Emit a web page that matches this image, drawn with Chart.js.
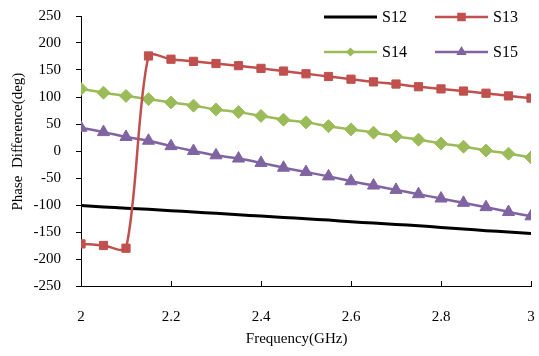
<!DOCTYPE html>
<html>
<head>
<meta charset="utf-8">
<script src="https://cdn.jsdelivr.net/npm/chart.js@4/dist/chart.umd.min.js"></script>
<style>
html,body{margin:0;padding:0;background:#ffffff;}
#wrap{width:539px;height:356px;position:relative;}
</style>
</head>
<body>
<div id="wrap"><canvas id="c" width="539" height="356"></canvas></div>
<script>
// ---- data ----
const frequency = [2.00,2.05,2.10,2.15,2.20,2.25,2.30,2.35,2.40,2.45,2.50,2.55,2.60,2.65,2.70,2.75,2.80,2.85,2.90,2.95,3.00];
const s12 = [-101,-103.5,-106,-108,-110.5,-113,-115.5,-118,-120.5,-123,-125.5,-128,-131,-133.5,-136,-138.5,-141.5,-144.5,-147.5,-150,-153];
const s13 = [-172,-175,-180,176,170,166,162,158,153,148,143,138,133,128,124,119,115,111,107,102,98];
const s14 = [115,108,102,96,90,84,77,72,65,58,53,46,40,34,27,21,14,8,1,-5,-12];
const s15 = [43,35,26,19,9,0,-8,-14,-22,-31,-39,-47,-56,-64,-72,-80,-88,-96,-104,-113,-121];
const seriesNames = ['S12','S13','S14','S15'];
const xTickValues = [2,2.2,2.4,2.6,2.8,3];
const yTickValues = [-250,-200,-150,-100,-50,0,50,100,150,200,250];
const xTitle = 'Frequency(GHz)';
const yTitle = 'Phase  Difference(deg)';

const FONT = "'Liberation Serif','Times New Roman',serif";
const toPts = arr => arr.map((v,i)=>({x:frequency[i], y:v}));

const styles = [
  {color:'#000000', width:3, marker:null, radius:0, order:4, tension:0.4},
  {color:'#C0504D', width:2.5, marker:'rect', radius:5.8, order:1, tension:0.28},
  {color:'#9BBB59', width:2.5, marker:'rectRot', radius:6.5, order:3, tension:0.4},
  {color:'#8064A2', width:2.5, marker:'triangle', radius:7, order:2, tension:0.4}
];
const values = [s12,s13,s14,s15];

const datasets = values.map((arr,i)=>({
  label: seriesNames[i],
  data: toPts(arr),
  borderColor: styles[i].color,
  backgroundColor: styles[i].color,
  borderWidth: styles[i].width,
  pointStyle: styles[i].marker || 'circle',
  pointRadius: styles[i].radius,
  pointBorderWidth: 1,
  pointBorderColor: styles[i].color,
  pointBackgroundColor: styles[i].color,
  tension: styles[i].tension,
  order: styles[i].order,
  fill: false
}));

function drawMarker(ctx, type, x, y, r, color){
  ctx.save();
  ctx.fillStyle = color;
  ctx.beginPath();
  if(type==='rect'){
    const s = r*Math.SQRT1_2;
    ctx.rect(x-s,y-s,2*s,2*s);
  } else if(type==='rectRot'){
    ctx.moveTo(x,y-r);ctx.lineTo(x+r,y);ctx.lineTo(x,y+r);ctx.lineTo(x-r,y);ctx.closePath();
  } else if(type==='triangle'){
    ctx.moveTo(x,y-r);
    ctx.lineTo(x+r*Math.sin(2*Math.PI/3),y-r*Math.cos(2*Math.PI/3));
    ctx.lineTo(x+r*Math.sin(4*Math.PI/3),y-r*Math.cos(4*Math.PI/3));
    ctx.closePath();
  }
  ctx.fill();
  ctx.restore();
}

const customLegend = {
  id:'customLegend',
  afterDraw(chart){
    const ctx = chart.ctx;
    const right = chart.chartArea.right;
    const slots = [
      {dx:-207, y:17},{dx:-96, y:17},{dx:-207, y:52},{dx:-96, y:52}
    ];
    const legendMarkerR = [0,6,4.5,6];
    chart.data.datasets.forEach((ds,i)=>{
      const x0 = right + slots[i].dx, y = slots[i].y, len = 53;
      ctx.save();
      ctx.strokeStyle = ds.borderColor;
      ctx.lineWidth = ds.borderWidth;
      ctx.beginPath();ctx.moveTo(x0,y);ctx.lineTo(x0+len,y);ctx.stroke();
      if(styles[i].marker) drawMarker(ctx, styles[i].marker, x0+len/2, y, legendMarkerR[i], ds.borderColor);
      ctx.fillStyle = '#000';
      ctx.font = '16px ' + FONT;
      ctx.textBaseline = 'middle';
      ctx.textAlign = 'left';
      ctx.fillText(ds.label, x0+len+5, y+1);
      ctx.restore();
    });
  }
};

const innerXTicks = {
  id:'innerXTicks',
  afterDraw(chart){
    const ctx = chart.ctx, xs = chart.scales.x, area = chart.chartArea;
    ctx.save();
    ctx.strokeStyle = '#000';
    ctx.lineWidth = 1;
    xTickValues.forEach(v=>{
      const px = Math.round(xs.getPixelForValue(v)) + 0.5;
      ctx.beginPath();ctx.moveTo(px, area.bottom);ctx.lineTo(px, area.bottom-5);ctx.stroke();
    });
    ctx.restore();
  }
};

function zeroPad(s){ s.paddingLeft = 0; s.paddingRight = 0; s.paddingTop = 0; s.paddingBottom = 0; }

new Chart(document.getElementById('c'), {
  type:'line',
  data:{datasets},
  options:{
    responsive:false,
    animation:false,
    devicePixelRatio:1,
    layout:{padding:{top:16,right:6,left:0,bottom:0}},
    plugins:{legend:{display:false}, tooltip:{enabled:false}},
    scales:{
      x:{
        type:'linear', min:2, max:3,
        afterBuildTicks: s => { s.ticks = xTickValues.map(v=>({value:v})); },
        afterFit: s => { s.height = 70; zeroPad(s); },
        ticks:{color:'#000', font:{family:FONT,size:15}, padding:22, maxRotation:0,
          callback: v => String(Math.round(v*10)/10)},
        grid:{display:true, drawOnChartArea:false, drawTicks:false},
        border:{display:true, color:'#000', width:1},
        title:{display:true, text:xTitle + '     ', color:'#000', font:{family:FONT,size:15}, padding:{top:0,bottom:8}}
      },
      y:{
        type:'linear', min:-250, max:250,
        afterBuildTicks: s => { s.ticks = yTickValues.map(v=>({value:v})); },
        afterFit: s => { s.width = 81; zeroPad(s); },
        ticks:{color:'#000', font:{family:FONT,size:15}, padding:15},
        grid:{display:true, drawOnChartArea:false, drawTicks:true, tickLength:5, color:'#000'},
        border:{display:true, color:'#000', width:1},
        title:{display:true, text:'     ' + yTitle, color:'#000', font:{family:FONT,size:15}, padding:{top:9,bottom:0}}
      }
    }
  },
  plugins:[customLegend, innerXTicks]
});
</script>
</body>
</html>
